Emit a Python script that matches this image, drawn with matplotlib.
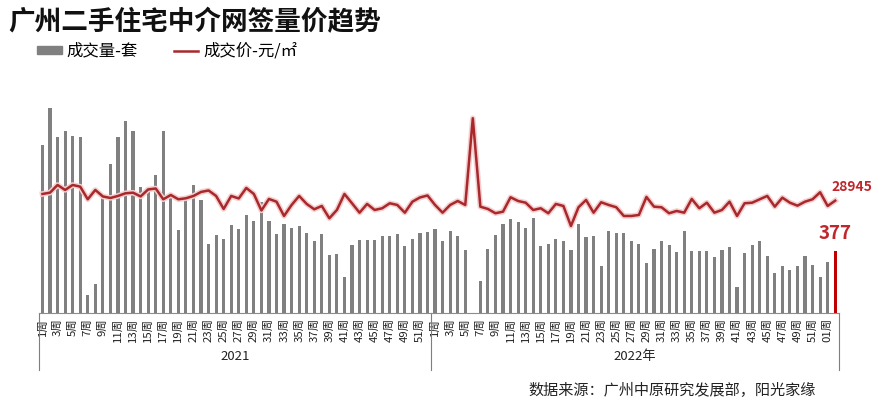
import matplotlib
matplotlib.use("Agg")
import matplotlib.pyplot as plt
import matplotlib.patheffects as pe
from matplotlib.patches import Patch
from matplotlib.lines import Line2D
import matplotlib.transforms as mtransforms

plt.rcParams['font.family'] = ['Noto Sans CJK SC', 'DejaVu Sans']

# weekly data
years = ['2021', '2022年']
vol_2021 = [1025, 1253, 1074, 1111, 1080, 1074, 108, 177, 703, 909,
            1074, 1172, 1111, 768, 756, 842, 1111, 703, 505, 707,
            781, 689, 420, 475, 450, 536, 512, 597, 560, 679,
            560, 481, 542, 518, 530, 485, 438, 481, 353, 359,
            218, 414, 444, 444, 444, 469, 469, 481, 408, 450,
            485, 493]
vol_2022 = [512, 438, 499, 469, 383, 0, 194, 389, 475, 542,
            573, 554, 518, 579, 408, 420, 450, 438, 383, 542,
            463, 469, 285, 499, 487, 487, 438, 420, 304, 389,
            438, 414, 371, 499, 377, 377, 377, 340, 383, 401,
            157, 365, 414, 438, 346, 243, 285, 261, 285, 346,
            291, 218, 310, 377]
price_2021 = [30670, 31010, 33000, 31710, 33000, 32560, 29300, 31710, 30030, 29640,
              30160, 30850, 31010, 30030, 31840, 32090, 29300, 30410, 29300, 29560,
              30160, 31190, 31580, 30160, 26800, 30160, 29510, 32220, 30670, 26410,
              29380, 28680, 24990, 27830, 30160, 28090, 26720, 27570, 24390, 26540,
              30670, 28270, 25840, 28090, 26540, 26980, 28270, 27830, 25840, 28680,
              29770, 30280]
price_2022 = [27830, 25840, 27830, 28860, 27830, 50230, 27390, 26800, 25690, 26100,
              29820, 28860, 28420, 26540, 26980, 25690, 28090, 27570, 22400, 27240,
              29120, 25840, 28530, 27830, 27240, 24990, 24990, 25250, 29900, 27390,
              27240, 25690, 26280, 25840, 29380, 26980, 28420, 25840, 26540, 28680,
              24990, 28270, 28420, 29300, 30160, 27390, 29720, 28420, 27650, 28680,
              29300, 31110, 27570, 28945]
weeks_2021 = [f'{i}周' for i in range(1, 53)]
weeks_2022 = [f'{i}周' for i in range(1, 53)] + ['01周', '02周']

volume = vol_2021 + vol_2022
price = price_2021 + price_2022
labels = weeks_2021 + weeks_2022
x = list(range(len(volume)))
n21 = len(vol_2021)

bar_grey = '#808080'
red = '#C00000'
line_red = '#A8282C'

fig = plt.figure(figsize=(8.81, 4.04), dpi=100)
ax = fig.add_axes([0.0439, 0.226, 0.9084, 0.567])

colors = [bar_grey] * (len(volume) - 1) + [red]
bars = ax.bar(x, volume, width=0.42, color=colors, zorder=2)
ax.set_xlim(-0.5, len(volume) - 0.5)
ax.set_ylim(0, 1400)

ax2 = ax.twinx()
ln, = ax2.plot(x, price, color=line_red, lw=1.8, zorder=3,
               path_effects=[pe.Stroke(linewidth=4, foreground='#F4CFCF'), pe.Normal()])
ax2.set_ylim(0, 59180)

for a in (ax, ax2):
    for s in ('top', 'left', 'right'):
        a.spines[s].set_visible(False)
    a.set_yticks([])
ax2.spines['bottom'].set_visible(False)
ax.spines['bottom'].set_color('#8C8C8C')
ax.spines['bottom'].set_linewidth(0.8)

ax.set_xticks(x[::2])
ax.set_xticklabels(labels[::2], rotation=90, fontsize=8.2, color='#222222')
ax.tick_params(axis='x', length=0, pad=4)

# year groups under the week labels
trans = mtransforms.blended_transform_factory(ax.transData, ax.transAxes)
for xs in (-0.5, n21 - 0.5, len(volume) - 0.5):
    ax.add_line(Line2D([xs, xs], [0, -0.25], transform=trans, color='#7F7F7F',
                       lw=0.8, clip_on=False))
ax.text((n21 - 1) / 2, -0.19, years[0], transform=trans, ha='center', va='center',
        fontsize=9.5, color='#222222')
ax.text((n21 + len(volume) - 1) / 2, -0.19, years[1], transform=trans, ha='center',
        va='center', fontsize=9.5, color='#222222')

# end labels
ax2.annotate(f'{price[-1]}', xy=(x[-1], price[-1]), xytext=(-4, 13.5),
             textcoords='offset pixels', ha='left', va='center', fontsize=10,
             fontweight='bold', color='#C0262B')
ax.annotate(f'{volume[-1]}', xy=(x[-1], volume[-1]), xytext=(0, 18),
            textcoords='offset pixels', ha='center', va='center', fontsize=13.5,
            fontweight='bold', color='#C0262B')

fig.text(8 / 881, 1 - 23 / 404, '广州二手住宅中介网签量价趋势', fontsize=19.2,
         fontweight='bold', va='center', ha='left', color='#111111')

handles = [Patch(color=bar_grey), Line2D([], [], color=line_red, lw=1.8)]
fig.legend(handles, ['成交量-套', '成交价-元/㎡'], loc='center left',
           bbox_to_anchor=(32 / 881, 1 - 51 / 404), ncol=2, frameon=False,
           fontsize=11.8, handlelength=1.5, handleheight=0.4, handletextpad=0.3,
           columnspacing=2.2, borderaxespad=0, borderpad=0.3)

fig.text(528 / 881, 1 - 390 / 404, '数据来源：广州中原研究发展部，阳光家缘',
         fontsize=10.9, ha='left', va='center', color='#222222')

fig.savefig('out.png', dpi=100)
